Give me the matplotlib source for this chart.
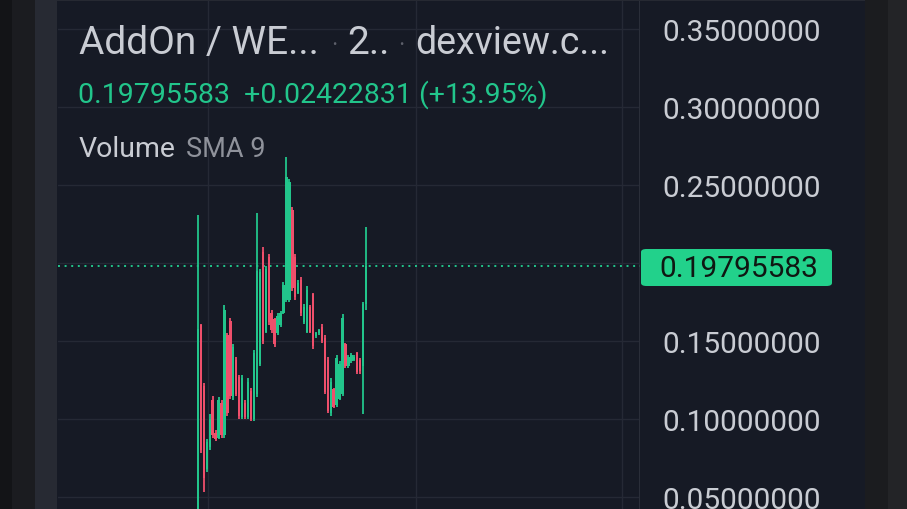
import matplotlib.pyplot as plt
from matplotlib.patches import Rectangle, FancyBboxPatch
import numpy as np

# candle data (oldest first)
opens = [0.035, 0.160, 0.121, 0.068, 0.082, 0.112, 0.091, 0.088, 0.110, 0.090,
         0.154, 0.163, 0.114, 0.138, 0.127, 0.101, 0.110, 0.101, 0.118, 0.100,
         0.116, 0.135, 0.207, 0.156, 0.204, 0.168, 0.164, 0.155, 0.160, 0.168,
         0.176, 0.176, 0.234, 0.204, 0.181, 0.189, 0.162, 0.156, 0.172, 0.180,
         0.153, 0.155, 0.159, 0.152, 0.138, 0.104, 0.119, 0.109, 0.113, 0.116,
         0.148, 0.134, 0.137, 0.138, 0.142, 0.138, 0.134, 0.17373]
closes = [0.158, 0.080, 0.062, 0.085, 0.100, 0.090, 0.087, 0.112, 0.090, 0.170,
          0.104, 0.115, 0.146, 0.116, 0.102, 0.126, 0.101, 0.124, 0.100, 0.142,
          0.195, 0.194, 0.150, 0.196, 0.162, 0.157, 0.148, 0.166, 0.168, 0.186,
          0.255, 0.252, 0.184, 0.178, 0.187, 0.168, 0.172, 0.183, 0.156, 0.147,
          0.155, 0.157, 0.150, 0.117, 0.105, 0.124, 0.108, 0.139, 0.135, 0.165,
          0.134, 0.140, 0.141, 0.140, 0.130, 0.131, 0.17373, 0.19795583]
highs = [0.231, 0.161, 0.123, 0.087, 0.103, 0.115, 0.093, 0.114, 0.112, 0.173,
         0.155, 0.165, 0.148, 0.140, 0.128, 0.128, 0.112, 0.126, 0.120, 0.144,
         0.232, 0.196, 0.210, 0.198, 0.206, 0.170, 0.165, 0.168, 0.169, 0.188,
         0.268, 0.254, 0.236, 0.206, 0.189, 0.191, 0.174, 0.185, 0.173, 0.181,
         0.156, 0.158, 0.161, 0.154, 0.140, 0.126, 0.120, 0.141, 0.137, 0.167,
         0.149, 0.141, 0.142, 0.141, 0.143, 0.139, 0.175, 0.223]
lows = [0.030, 0.078, 0.053, 0.066, 0.080, 0.088, 0.086, 0.087, 0.088, 0.088,
        0.102, 0.113, 0.112, 0.115, 0.100, 0.100, 0.100, 0.100, 0.099, 0.099,
        0.114, 0.134, 0.148, 0.155, 0.160, 0.155, 0.146, 0.154, 0.159, 0.167,
        0.175, 0.175, 0.182, 0.176, 0.180, 0.166, 0.161, 0.155, 0.155, 0.145,
        0.152, 0.154, 0.149, 0.116, 0.104, 0.102, 0.107, 0.108, 0.112, 0.115,
        0.133, 0.133, 0.136, 0.137, 0.129, 0.129, 0.103, 0.170]

last_price = 0.19795583
change = 0.02422831
change_pct = 13.95
price_ticks = [0.05, 0.10, 0.15, 0.20, 0.25, 0.30, 0.35]
time_grid = [3.4, 73.9, 143.7]

BG = "#161a25"
GRID = "#252935"
UP = "#22c58b"
DOWN = "#ef4f6b"
TXT = "#c9ccd3"

plt.rcParams['font.family'] = ['Roboto', 'DejaVu Sans']

W, H = 907, 510
fig = plt.figure(figsize=(W / 100, H / 100), dpi=100, facecolor=BG)


def fx(x):
    return x / W


def fy(y):
    return 1 - y / H


# side bands of the phone screenshot
for x0, x1, c in [(0, 12, "#131417"), (12, 35, "#1b1c20"), (35, 57, "#272a33"),
                  (865, 888, "#1b1c1f"), (888, 907, "#232427")]:
    fig.add_artist(Rectangle((fx(x0), 0), fx(x1) - fx(x0), 1, transform=fig.transFigure,
                             facecolor=c, edgecolor="none", zorder=0))
fig.add_artist(Rectangle((fx(57), fy(2)), fx(865) - fx(57), 2 / H, transform=fig.transFigure,
                         facecolor="#262932", edgecolor="none", zorder=0))

ax = fig.add_axes([fx(58), 0, fx(640) - fx(58), fy(2)])
ax.set_facecolor(BG)
x = np.arange(len(opens))
ax.set_xlim(-47.4, 149.8)
ax.set_ylim(0.2 - 246 / 1560, 0.2 + 262 / 1560)

ax.set_yticks(price_ticks)
ax.set_xticks(time_grid)
ax.grid(True, color=GRID, lw=1)
ax.tick_params(length=0, labelbottom=False)
ax.yaxis.tick_right()
# the 0.20 label sits under the last-price badge
ax.set_yticklabels(["" if abs(p - 0.20) < 1e-9 else f"{p:.8f}" for p in price_ticks],
                   color=TXT, fontsize=21.5)
ax.tick_params(axis="y", pad=16)
for s in ax.spines.values():
    s.set_visible(False)
ax.axvline(149.8, color="#2a2e39", lw=1.5)

o = np.array(opens)
c = np.array(closes)
cols = np.where(c >= o, UP, DOWN)
ax.vlines(x, lows, highs, colors=cols, lw=1.3, zorder=3)
ax.bar(x, np.abs(c - o), bottom=np.minimum(o, c), width=0.8, color=cols, zorder=3)

ax.axhline(last_price, color=UP, lw=1.4, ls=(0, (1, 2.4)), zorder=2)

# last price badge on the price scale
fig.add_artist(FancyBboxPatch((fx(641), fy(287)), fx(832) - fx(641), 37 / H,
                              boxstyle="round,pad=0,rounding_size=0.006",
                              transform=fig.transFigure, facecolor="#22d18b",
                              edgecolor="none", zorder=5))
fig.text(fx(739), fy(269), f"{last_price:.8f}", color="#0f1712", fontsize=21.5,
         ha="center", va="center", zorder=6)

# legend texts
fig.text(fx(79), fy(54), "AddOn / WE...", color=TXT, fontsize=28, va="baseline")
fig.text(fx(334), fy(48), "•", color="#5d606b", fontsize=9, ha="center", va="baseline")
fig.text(fx(347), fy(54), "2..", color=TXT, fontsize=28, va="baseline")
fig.text(fx(401), fy(48), "•", color="#5d606b", fontsize=9, ha="center", va="baseline")
fig.text(fx(415), fy(54), "dexview.c...", color=TXT, fontsize=27, va="baseline")
fig.text(fx(78), fy(103), f"{last_price:.8f}  +{change:.8f} (+{change_pct:.2f}%)",
         color=UP, fontsize=20.5, va="baseline")
fig.text(fx(79), fy(157), "Volume", color=TXT, fontsize=20.5, va="baseline")
fig.text(fx(186), fy(157), "SMA 9", color="#8f929b", fontsize=19.5, va="baseline")

fig.savefig("out.png", dpi=100, facecolor=BG)
